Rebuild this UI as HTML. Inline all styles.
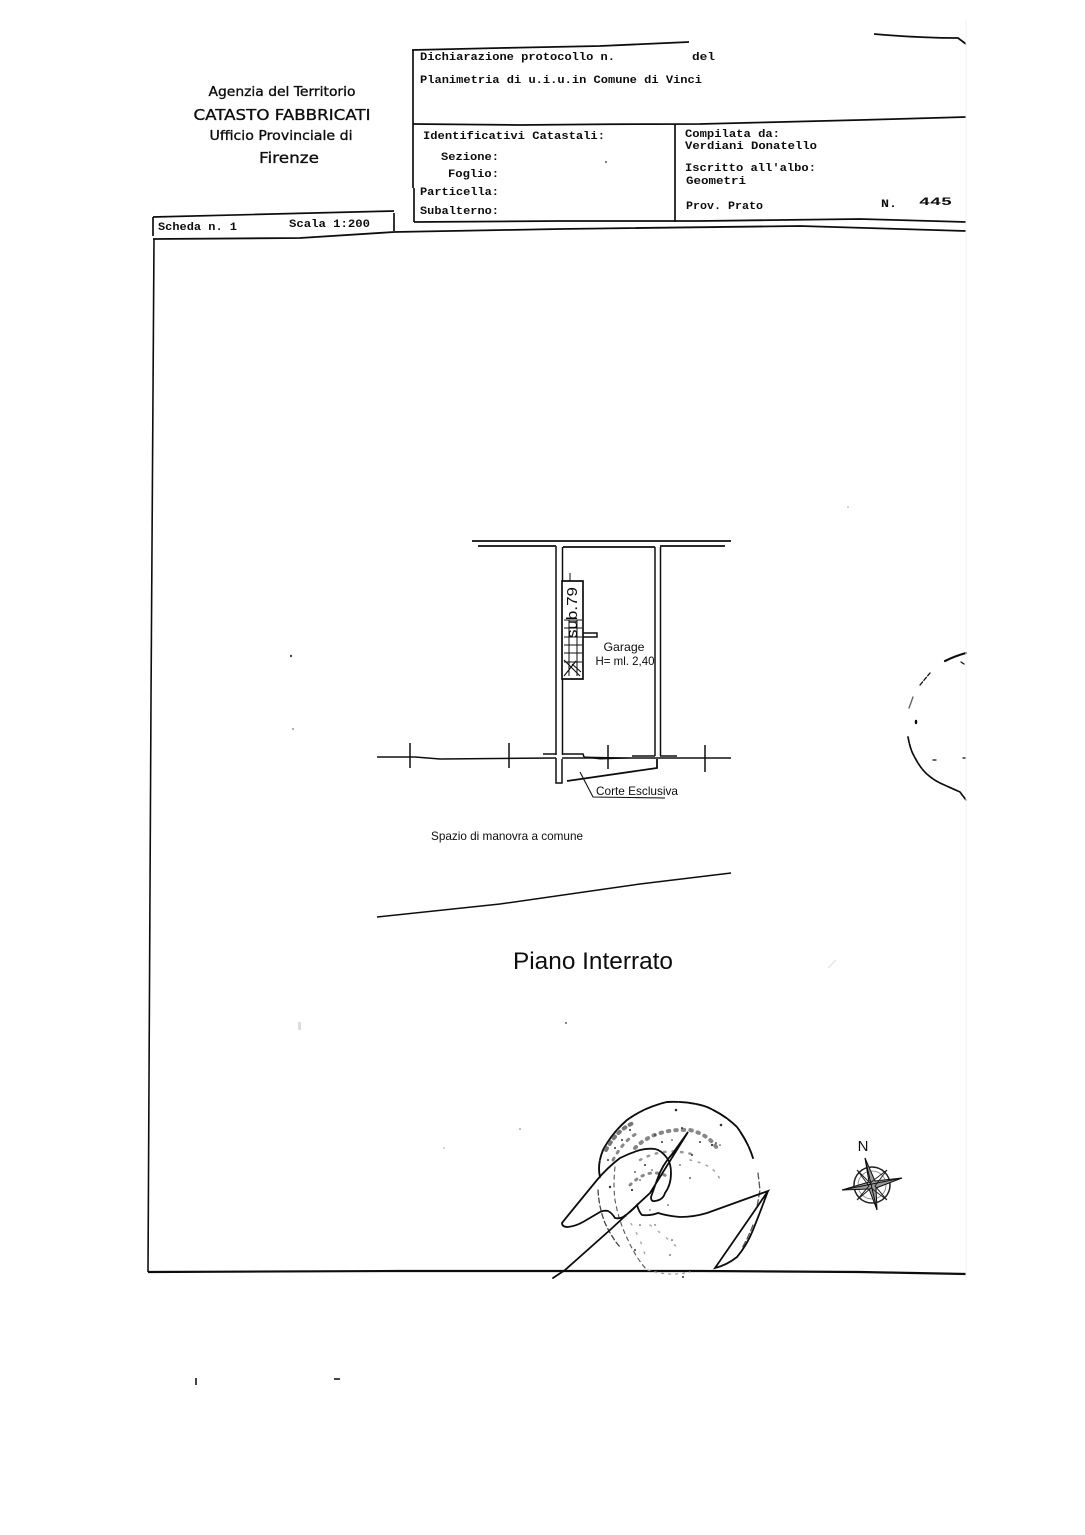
<!DOCTYPE html>
<html>
<head>
<meta charset="utf-8">
<style>
html,body{margin:0;padding:0;background:#fff;width:1085px;height:1535px;overflow:hidden}
svg{display:block}
.m{font-family:"Liberation Mono",monospace;font-size:11px;font-weight:bold;fill:#111}
.s{font-family:"DejaVu Sans","Liberation Sans",sans-serif;fill:#111;stroke:#111;stroke-width:.35}
.l{font-family:"Liberation Sans",sans-serif;fill:#111}
</style>
</head>
<body>
<svg width="1085" height="1535" viewBox="0 0 1085 1535" xmlns="http://www.w3.org/2000/svg">
<defs>
<filter id="b" x="-5%" y="-5%" width="110%" height="110%"><feGaussianBlur stdDeviation="0.35"/></filter>
</defs>
<rect width="1085" height="1535" fill="#fff"/>
<g filter="url(#b)">
<!-- header box -->
<g fill="none" stroke="#111" stroke-width="1.7">
<path d="M412 50 L500 48 L600 46 L689 42" stroke-width="1.8"/>
<path d="M874 34 Q920 38 958 38 L966 44" stroke-width="1.8"/>
<path d="M413 50 V188"/>
<path d="M414 188 V222"/>
<path d="M413 124 L520 125 Q600 124 700 124 L860 120 L966 117" stroke-width="1.8"/>
<path d="M675 124 V222"/>
<path d="M414 222 L560 221 L700 221 L860 219 L966 222" stroke-width="1.8"/>
<path d="M394 213 V231"/>
<path d="M153 217 L394 211"/>
<path d="M153 217 V236"/>
<path d="M153 239 L300 238 L394 232 L560 229 L800 226 L966 231" stroke-width="1.8"/>
<path d="M154 239 L151 700 L148 1272" stroke-width="1.6"/>
<path d="M148 1272 L400 1271 L700 1271 L860 1272 L966 1274" stroke-width="2.2"/>
</g>
<!-- left heading -->
<text class="s" x="282" y="96" font-size="13.5" text-anchor="middle" textLength="147" lengthAdjust="spacingAndGlyphs">Agenzia del Territorio</text>
<text class="s" x="282" y="120" font-size="15.5" text-anchor="middle" textLength="177" lengthAdjust="spacingAndGlyphs">CATASTO FABBRICATI</text>
<text class="s" x="281" y="140" font-size="13.5" text-anchor="middle" textLength="143" lengthAdjust="spacingAndGlyphs">Ufficio Provinciale di</text>
<text class="s" x="289" y="163" font-size="15.5" text-anchor="middle" textLength="60" lengthAdjust="spacingAndGlyphs">Firenze</text>
<!-- form text -->
<text class="m" x="420" y="60" textLength="195" lengthAdjust="spacingAndGlyphs">Dichiarazione protocollo n.</text>
<text class="m" x="692" y="60" font-size="12" textLength="23" lengthAdjust="spacingAndGlyphs">del</text>
<text class="m" x="420" y="83" textLength="282" lengthAdjust="spacingAndGlyphs">Planimetria di u.i.u.in Comune di Vinci</text>
<text class="m" x="423" y="139" textLength="182" lengthAdjust="spacingAndGlyphs">Identificativi Catastali:</text>
<text class="m" x="441" y="160" textLength="58" lengthAdjust="spacingAndGlyphs">Sezione:</text>
<text class="m" x="448" y="177" textLength="51" lengthAdjust="spacingAndGlyphs">Foglio:</text>
<text class="m" x="420" y="195" textLength="79" lengthAdjust="spacingAndGlyphs">Particella:</text>
<text class="m" x="420" y="214" textLength="79" lengthAdjust="spacingAndGlyphs">Subalterno:</text>
<text class="m" x="685" y="137" textLength="95" lengthAdjust="spacingAndGlyphs">Compilata da:</text>
<text class="m" x="685" y="149" textLength="132" lengthAdjust="spacingAndGlyphs">Verdiani Donatello</text>
<text class="m" x="685" y="171" textLength="131" lengthAdjust="spacingAndGlyphs">Iscritto all'albo:</text>
<text class="m" x="686" y="184" textLength="60" lengthAdjust="spacingAndGlyphs">Geometri</text>
<text class="m" x="686" y="209" textLength="77" lengthAdjust="spacingAndGlyphs">Prov. Prato</text>
<text class="m" x="881" y="207" textLength="16" lengthAdjust="spacingAndGlyphs">N.</text>
<text class="m" x="919" y="205" font-size="12" textLength="33" lengthAdjust="spacingAndGlyphs">445</text>
<text class="m" x="158" y="230" textLength="79" lengthAdjust="spacingAndGlyphs">Scheda n. 1</text>
<text class="m" x="289" y="227" textLength="81" lengthAdjust="spacingAndGlyphs">Scala 1:200</text>
<circle cx="606" cy="162" r="1" fill="#555"/>
<!-- floor plan -->
<g fill="none" stroke="#111" stroke-width="1.5">
<path d="M472 541 H731" stroke-width="1.8"/>
<path d="M478 546 H556 M563 547 L655 547 M660 546 H725" stroke-width="1.8"/>
<path d="M556 546 V755 M556 758 V783 H562 V759 M562.5 547 V581 M562.5 679 V755"/>
<path d="M655 547 V756 M660.5 547 V756"/>
<path d="M562 581 H583 V679 H562 Z" stroke-width="1.7"/>
<path d="M583 633 H597 V637 H583"/>
<path d="M564 620 H582 M564 628 H582 M564 637 H582 M564 645 H582 M564 653 H582 M564 662 H582" stroke-width="1"/>
<path d="M569 620 V676 M577 620 V676" stroke-width="1"/>
<path d="M564 660 L580 676 M564 676 L576 661 M572 664 L581 672" stroke-width="1.100"/>
<path d="M570 573 V581" stroke-width="1"/>
<!-- horizontal line -->
<path d="M377 757 L415 757 L440 759 L556 758 M562 758 H731" stroke-width="1.5"/>
<path d="M410 743 V768 M509 743 V768 M608 745 V769 M705 745 V772"/>
<path d="M543 754 H556 M562 754 H583 L584 757 M660 756 H677 M632 756 H655" stroke-width="1.6"/>
<path d="M584 757 L632 758 L600 759 Z" fill="#111" stroke-width="1"/>
<path d="M657 759 V768 L567 781" stroke-width="1.8"/>
<path d="M580 772 L593 797 L665 798" stroke-width="1.100"/>
</g>
<text class="l" x="0" y="0" font-size="15" transform="translate(577 638) rotate(-90)" textLength="51" lengthAdjust="spacingAndGlyphs">sub.79</text>
<text class="l" x="624" y="651" font-size="12" text-anchor="middle" textLength="41" lengthAdjust="spacingAndGlyphs">Garage</text>
<text class="l" x="625" y="665" font-size="12" text-anchor="middle" textLength="59" lengthAdjust="spacingAndGlyphs">H= ml. 2,40</text>
<text class="l" x="596" y="795" font-size="12" textLength="82" lengthAdjust="spacingAndGlyphs">Corte Esclusiva</text>
<text class="l" x="431" y="840" font-size="12" textLength="152" lengthAdjust="spacingAndGlyphs">Spazio di manovra a comune</text>
<path d="M377 917 L500 904 L640 884 L731 873" fill="none" stroke="#111" stroke-width="1.5"/>
<text class="l" x="513" y="969" font-size="24.500" textLength="160" lengthAdjust="spacingAndGlyphs" fill="#333">Piano Interrato</text>
<!-- right fragment -->
<g fill="none" stroke="#111" stroke-linecap="round">
<path d="M945 661 Q955 656 966 653" stroke-width="2.200"/>
<path d="M920 685 L930 673" stroke-width="1.300" stroke-dasharray="4 2"/>
<path d="M909 708 L913 697" stroke-width="1.400" stroke="#666"/>
<path d="M908 737 Q910 748 913 754 Q918 764 923 770 Q930 778 940 783 L960 792 L966 800" stroke-width="1.700" stroke-dasharray="6 1.200"/>
<path d="M916 721 v2" stroke-width="2.400"/>
<path d="M933 760 h3 M963 758 h3 M961 662 l3 2" stroke-width="1.300"/>
</g>
<!-- stamp -->
<g fill="none" stroke="#111" stroke-linecap="round">
<path d="M600 1177 Q597 1165 603 1150 Q612 1133 627 1120 Q645 1107 667 1102 Q690 1101 707 1107 Q725 1115 737 1127 Q748 1142 753 1158" stroke-width="1.900" stroke-dasharray="16 1.500"/>
<path d="M758 1173 L760 1190 L757 1207 M753 1225 Q748 1238 742 1248" stroke-width="1.300" stroke="#555" stroke-dasharray="6 3"/>
<path d="M598 1190 Q599 1208 605 1223 Q612 1238 620 1247" stroke-width="1.300" stroke="#444" stroke-dasharray="5 3"/>
<path d="M615 1167 Q613 1185 615 1200 Q619 1222 628 1240 Q636 1258 647 1270" stroke-width="1.100" stroke="#555" stroke-dasharray="4 4"/>
<path d="M648 1270 Q670 1277 690 1272" stroke-width="1.200" stroke="#999" stroke-dasharray="2 5"/>
<path d="M606 1150 Q618 1128 636 1122" stroke-width="4" stroke="#777" stroke-dasharray="2 5"/>
<path d="M613 1160 Q625 1138 640 1132" stroke-width="3" stroke="#888" stroke-dasharray="2 6"/>
<path d="M635 1148 Q655 1128 690 1130 Q710 1135 718 1150" stroke-width="4" stroke="#888" stroke-dasharray="1.500 6"/>
<path d="M640 1160 Q665 1146 695 1155" stroke-width="2.500" stroke="#999" stroke-dasharray="1.500 7"/>
<path d="M630 1185 Q650 1165 670 1178" stroke-width="3" stroke="#888" stroke-dasharray="1.500 6"/>
<path d="M690 1160 Q715 1165 720 1180" stroke-width="1.500" stroke="#999" stroke-dasharray="1.500 7"/>
<path d="M650 1225 Q670 1240 680 1250 M625 1215 Q640 1235 645 1255" stroke-width="1.500" stroke="#aaa" stroke-dasharray="1.500 9"/>
<!-- signature -->
<path d="M553 1278 L565 1270 L610 1230 L650 1193 L660 1177 L688 1132 L673 1153 Q662 1165 657 1180 L651 1197 Q651 1202 655 1201 Q663 1200 665 1193 Q671 1185 671 1173 Q671 1163 667 1158 Q661 1150 655 1149 Q648 1148 640 1150 Q630 1153 620 1158 Q607 1168 597 1180 L570 1213 L562 1223 Q562 1227 568 1227 Q576 1226 583 1222 L600 1212 Q604 1210 608 1211 Q612 1213 615 1218 Q619 1219 623 1217 Q631 1212 637 1205 Q639 1212 642 1215 Q650 1216 658 1213 Q668 1216 680 1217 Q694 1217 707 1213 L768 1191 L753 1213 L715 1268 Q727 1265 737 1257 Q747 1245 753 1230 Q761 1210 768 1191" stroke-width="1.800"/>
</g>
<g fill="#333">
<circle cx="676" cy="1110" r="1.300"/><circle cx="721" cy="1125" r="1.300"/><circle cx="610" cy="1187" r="1.200"/><circle cx="682" cy="1128" r="1"/><circle cx="683" cy="1277" r="1"/>
<circle cx="645" cy="1165" r="1"/><circle cx="652" cy="1170" r=".8"/><circle cx="635" cy="1172" r=".9"/><circle cx="640" cy="1180" r=".8"/><circle cx="655" cy="1135" r=".9"/><circle cx="662" cy="1142" r="1"/><circle cx="672" cy="1140" r=".8"/><circle cx="700" cy="1142" r="1"/><circle cx="712" cy="1145" r="1.100"/><circle cx="716" cy="1143" r=".9"/><circle cx="692" cy="1155" r="1"/><circle cx="680" cy="1165" r=".8"/><circle cx="690" cy="1178" r=".9"/><circle cx="630" cy="1130" r="1"/><circle cx="622" cy="1140" r="1"/><circle cx="615" cy="1148" r="1"/><circle cx="608" cy="1160" r="1"/><circle cx="632" cy="1190" r="1.100"/><circle cx="650" cy="1210" r=".7"/><circle cx="668" cy="1205" r=".8"/><circle cx="640" cy="1225" r=".8"/><circle cx="655" cy="1225" r=".7"/><circle cx="672" cy="1240" r=".8"/><circle cx="670" cy="1255" r=".8"/><circle cx="635" cy="1250" r="1"/><circle cx="720" cy="1145" r=".8"/>
</g>
<!-- north -->
<text class="l" x="863" y="1151" font-size="15" text-anchor="middle" fill="#111">N</text>
<g fill="none" stroke="#222">
<circle cx="872" cy="1185" r="18" stroke-width="1.500"/>
<circle cx="872" cy="1185" r="14" stroke-width=".8" stroke="#777"/>
</g>
<path d="M865 1158 L875 1181 L902 1178 L876 1188 L877 1210 L869 1189 L842 1190 L869 1182 Z" fill="#999" stroke="#111" stroke-width="1"/>
<path d="M857 1170 L870 1183 L887 1170 L875 1186 L887 1200 L871 1188 L857 1200 L869 1186 Z" fill="none" stroke="#222" stroke-width="1"/>
<path d="M865 1158 L877 1210 M842 1190 L902 1178" fill="none" stroke="#111" stroke-width="1"/>
<!-- specks -->
<g fill="#444">
<circle cx="291" cy="656" r="1.200"/><circle cx="293" cy="729" r="1" fill="#999"/><circle cx="566" cy="1023" r="1" fill="#666"/><circle cx="520" cy="1129" r="0.800" fill="#777"/><circle cx="444" cy="1148" r="0.700" fill="#999"/>
<rect x="195" y="1378" width="2" height="7"/><rect x="334" y="1378" width="6" height="2"/>
<rect x="298" y="1022" width="3" height="8" fill="#ddd"/>
<circle cx="848" cy="507" r="0.800" fill="#aaa"/>
<path d="M828 968 L836 960" stroke="#ddd" fill="none"/>
</g>
<path d="M966 20 V1280" stroke="#f1f1f1" stroke-width="1" fill="none"/>
</g>
</svg>
</body>
</html>
